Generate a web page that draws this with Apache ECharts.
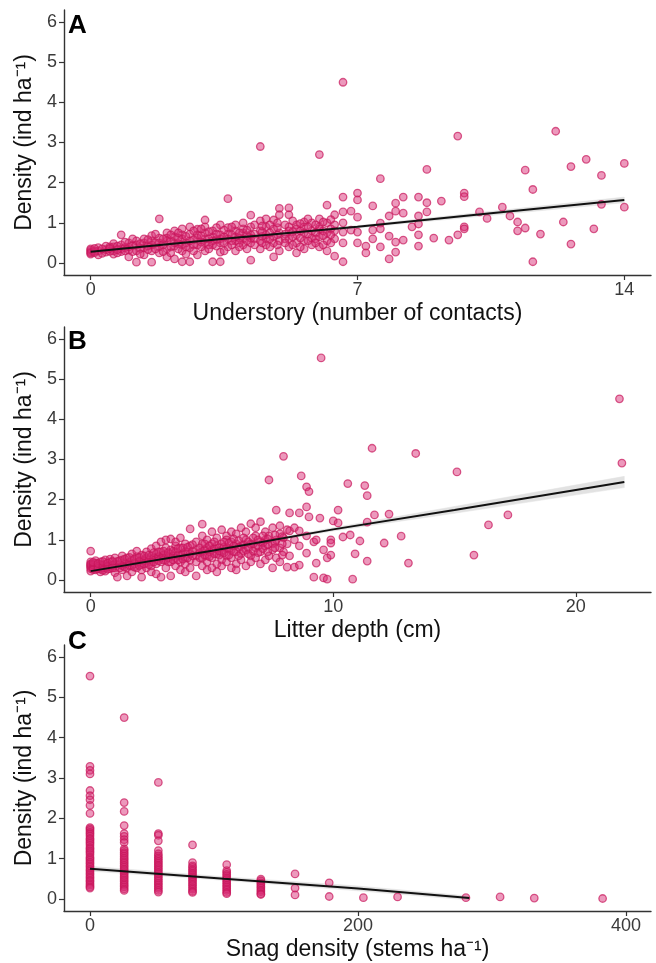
<!DOCTYPE html>
<html><head><meta charset="utf-8">
<script src="https://cdn.jsdelivr.net/npm/echarts@6/dist/echarts.min.js"></script>
<style>html,body{margin:0;padding:0;background:#fff}#c{width:656px;height:963px}</style>
</head><body><div id="c"></div>
<script>
// ---------- Panel A: Understory (number of contacts) ----------
const understoryGroups = [
 [0,[0.22,0.28,0.32,0.35,0.25]],
 [0.2,[0.3,0.2,0.38]],
 [0.4,[0.27,0.33,0.42]],
 [0.6,[0.3,0.4,0.22,0.48]],
 [0.8,[0.7,0.35,0.45,0.28]],
 [1.0,[0.4,0.5,0.32,0.15]],
 [1.2,[0.45,0.02,0.55,0.3]],
 [1.4,[0.38,0.5,0.6,0.2]],
 [1.6,[0.02,0.45,0.55,0.68,0.3]],
 [1.8,[1.1,0.4,0.62,0.5,0.25]],
 [2.0,[0.55,0.75,0.35,0.15,0.62]],
 [2.2,[0.5,0.1,0.65,0.42,0.8]],
 [2.4,[0.85,0.03,0.6,0.45,0.3,0.7]],
 [2.6,[0.03,0.55,0.72,0.38,0.9]],
 [2.8,[0.84,0.62,0.45,0.2,0.7]],
 [3.0,[1.07,0.6,0.5,0.3,0.75,0.9]],
 [3.2,[0.03,0.65,0.8,0.45,0.55]],
 [3.4,[0.95,0.27,0.03,0.7,0.6,0.5]],
 [3.6,[1.6,0.72,0.88,0.4,0.6]],
 [3.8,[0.55,0.8,0.3,0.95,0.65]],
 [4.0,[0.75,0.6,0.85,0.45,1.0]],
 [4.2,[1.19,0.07,0.7,0.5,0.9,0.62]],
 [4.45,[2.9,0.8,0.55,1.05,0.35]],
 [4.6,[1.1,0.7,0.9,0.45,0.6]],
 [4.8,[0.65,0.85,1.07,0.15,0.5]],
 [4.95,[1.36,1.2,0.75,0.55,0.3]],
 [5.2,[1.37,1.2,0.8,0.6,0.4,0.9]],
 [5.4,[0.95,0.7,0.5,0.25,0.85]],
 [5.6,[1.02,0.75,0.55,0.9,0.35]],
 [5.8,[0.8,0.62,1.0,0.45]],
 [6.0,[2.7,0.85,0.65,1.1,0.4,0.9]],
 [6.2,[1.44,0.75,0.55,1.0,0.3]],
 [6.4,[0.17,0.8,0.6,1.2,0.95]],
 [6.62,[4.5,1.64,1.27,1.0,0.77,0.5,0.03]],
 [6.83,[1.29,0.82]],
 [7.0,[1.74,1.57,1.14,0.77,0.5]],
 [7.22,[0.42,0.25]],
 [7.4,[1.42,0.82,0.6]],
 [7.6,[2.1,0.99,0.85,0.4]],
 [7.83,[1.17,0.67,0.1]],
 [8.0,[1.49,1.29,0.52,0.27]],
 [8.2,[1.64,1.24,0.57]],
 [8.43,[0.9]],
 [8.6,[1.64,1.17,0.97,0.7,0.42]],
 [8.82,[2.33,1.5,1.27]],
 [9.0,[0.62]],
 [9.2,[1.54]],
 [9.4,[0.57]],
 [9.63,[3.16,0.7]],
 [9.8,[1.74,1.65,0.9,0.85]],
 [10.2,[1.27]],
 [10.4,[1.11]],
 [10.8,[1.39]],
 [11.0,[1.17]],
 [11.2,[1.02,0.8]],
 [11.4,[2.31,0.87]],
 [11.6,[1.83,0.03]],
 [11.8,[0.72]],
 [12.2,[3.28]],
 [12.4,[1.02]],
 [12.6,[2.4,0.47]],
 [13.0,[2.58]],
 [13.2,[0.85]],
 [13.4,[2.18,1.46]],
 [14.0,[2.48,1.39]]
];
// dense core of panel A (second pass of readings)
const understoryCore = [
 [0.1,[0.3,0.26,0.36]],[0.3,[0.24,0.35]],[0.5,[0.29,0.4,0.36]],[0.7,[0.25,0.42,0.33]],
 [0.9,[0.38,0.52,0.3]],[1.1,[0.28,0.44,0.6]],[1.3,[0.36,0.48,0.22]],[1.5,[0.42,0.58,0.33]],
 [1.7,[0.35,0.5,0.72]],[1.9,[0.45,0.6,0.28]],[2.1,[0.4,0.55,0.7,0.25]],[2.3,[0.48,0.62,0.35,0.75]],
 [2.5,[0.5,0.66,0.4,0.22]],[2.7,[0.58,0.45,0.8,0.3]],[2.9,[0.52,0.68,0.4,0.85]],[3.1,[0.6,0.45,0.78,0.35]],
 [3.3,[0.58,0.72,0.42,0.88]],[3.5,[0.65,0.5,0.82,0.3]],[3.7,[0.7,0.55,0.45,0.9]],[3.9,[0.62,0.75,0.5,0.4]],
 [4.1,[0.68,0.82,0.55,0.35]],[4.3,[0.72,0.6,0.95,0.45]],[4.5,[0.66,0.78,0.5,0.92]],[4.7,[0.75,0.6,0.95,0.4]],
 [4.9,[0.7,0.88,0.45,1.0]],[5.1,[0.72,0.6,0.95,0.5]],[5.3,[0.78,0.65,1.05,0.45]],[5.5,[0.8,0.62,0.98,0.4]],
 [5.7,[0.72,0.9,0.55,1.1]],[5.9,[0.75,0.6,0.95,0.5]],[6.1,[0.8,0.68,1.02,0.45]],[6.3,[0.85,0.7,1.08,0.5]]
];
const understoryFit = [[0,0.28],[3.5,0.6],[7,0.9],[10.5,1.24],[14,1.57]];
const understoryLower = [[0,0.25],[7,0.87],[14,1.5]];
const understoryUpper = [[0,0.31],[7,0.93],[14,1.64]];
const understoryTicks = [0,7,14];

// ---------- Panel B: Litter depth (cm) ----------
const litterGroups = [
 [0,[0.72,0.45,0.38,0.32,0.28,0.22,0.35,0.4]],
 [0.2,[0.3,0.42,0.25,0.36,0.48]],
 [0.4,[0.33,0.27,0.45,0.38,0.2]],
 [0.6,[0.4,0.3,0.5,0.22,0.35]],
 [0.8,[0.28,0.45,0.36,0.52]],
 [1.0,[0.4,0.3,0.55,0.18]],
 [1.1,[0.07,0.46]],
 [1.3,[0.35,0.5,0.25,0.6]],
 [1.5,[0.42,0.1,0.55,0.3]],
 [1.7,[0.5,0.35,0.65,0.2]],
 [1.9,[0.45,0.3,0.58,0.72]],
 [2.1,[0.07,0.5,0.38,0.62,0.25]],
 [2.3,[0.55,0.42,0.7,0.3]],
 [2.5,[0.45,0.6,0.78,0.2,0.35]],
 [2.7,[0.52,0.65,0.4,0.85,0.15]],
 [2.9,[0.07,0.55,0.7,0.45,0.95]],
 [3.1,[0.6,0.5,0.8,0.3,1.0]],
 [3.3,[0.1,0.65,0.45,0.75,1.02]],
 [3.5,[0.55,0.7,0.85,0.35,0.95]],
 [3.7,[0.6,0.45,0.8,0.25,1.05]],
 [3.9,[0.7,0.55,0.9,0.4,0.2]],
 [4.1,[1.27,0.65,0.5,0.85,0.3]],
 [4.35,[0.1,0.75,0.6,0.95,0.45]],
 [4.6,[1.39,0.7,0.55,0.9,0.35,1.1]],
 [4.8,[0.8,0.6,0.45,1.0,0.25]],
 [5.0,[1.2,0.75,0.55,0.9,0.3]],
 [5.2,[0.85,0.65,1.05,0.4,0.2]],
 [5.4,[1.25,0.7,0.9,0.5,0.35]],
 [5.6,[0.8,1.1,0.6,0.45,1.0]],
 [5.8,[1.2,0.75,0.55,0.95,0.3]],
 [6.0,[0.9,0.7,1.15,0.4,0.25]],
 [6.2,[1.3,0.85,0.65,0.5]],
 [6.4,[1.0,0.75,1.2,0.35]],
 [6.6,[1.4,0.9,0.6,0.45]],
 [6.8,[1.1,0.8,0.55,1.3]],
 [7.0,[1.45,0.95,0.7,0.4]],
 [7.2,[1.2,0.85,0.5,1.0]],
 [7.35,[2.49,1.1,0.6]],
 [7.5,[1.3,0.9,0.75,0.3]],
 [7.65,[1.74,1.0,0.55]],
 [7.8,[1.35,0.8,1.15,0.45]],
 [7.95,[3.08,1.05,0.7]],
 [8.1,[0.32,1.25,0.9]],
 [8.2,[1.67,1.22,0.6]],
 [8.4,[0.32,1.0,1.3]],
 [8.6,[1.67,1.22,0.37,0.85]],
 [8.68,[2.59]],
 [8.9,[2.32,1.82,0.67,1.1]],
 [9.0,[2.2,1.57]],
 [9.2,[0.07,0.95]],
 [9.3,[1.0,0.42]],
 [9.45,[1.54]],
 [9.5,[5.53]],
 [9.6,[0.75,0.05]],
 [9.75,[0.55,0.02]],
 [9.9,[1.0,0.62,0.92]],
 [10.0,[1.47]],
 [10.2,[1.74,1.42]],
 [10.4,[1.07]],
 [10.6,[2.4]],
 [10.7,[1.12]],
 [10.8,[0.02]],
 [10.9,[0.65]],
 [11.1,[0.97]],
 [11.3,[2.35]],
 [11.4,[2.1,1.44,0.47]],
 [11.6,[3.28]],
 [11.7,[1.62]],
 [12.1,[0.92]],
 [12.3,[1.64]],
 [12.8,[1.09]],
 [13.1,[0.42]],
 [13.4,[3.15]],
 [15.1,[2.69]],
 [15.8,[0.62]],
 [16.4,[1.37]],
 [17.2,[1.62]],
 [21.8,[4.51]],
 [21.9,[2.91]]
];
// dense core of panel B (second pass of readings)
const litterCore = [
 [0.1,[0.3,0.38,0.26,0.44]],[0.3,[0.34,0.28,0.41]],[0.5,[0.3,0.37,0.46,0.24]],[0.7,[0.33,0.42,0.27]],
 [0.9,[0.36,0.46,0.3]],[1.2,[0.38,0.3,0.48]],[1.4,[0.4,0.32,0.52]],[1.6,[0.44,0.36,0.56]],
 [1.8,[0.4,0.52,0.32]],[2.0,[0.46,0.56,0.36]],[2.2,[0.48,0.6,0.4]],[2.4,[0.5,0.62,0.38]],
 [2.6,[0.55,0.68,0.45]],[2.8,[0.58,0.48,0.7]],[3.0,[0.62,0.5,0.72]],[3.2,[0.55,0.68,0.45]],
 [3.4,[0.6,0.72,0.5]],[3.6,[0.62,0.78,0.5]],[3.8,[0.65,0.52,0.8]],[4.0,[0.7,0.55,0.82]],
 [4.2,[0.72,0.6,0.88]],[4.5,[0.68,0.8,0.55]],[4.7,[0.75,0.62,0.9]],[4.9,[0.7,0.85,0.58]],
 [5.1,[0.78,0.65,0.95]],[5.3,[0.8,0.62,0.72]],[5.5,[0.82,0.68,0.95]],[5.7,[0.78,0.92,0.62]],
 [5.9,[0.85,0.7,1.02]],[6.1,[0.82,0.98,0.6]],[6.3,[0.88,0.72,1.05]],[6.5,[0.8,0.95,0.65]],
 [6.7,[0.9,1.05,0.72]],[6.9,[0.85,1.0,0.68]],[7.1,[0.92,0.78,1.1]],[7.3,[0.88,1.02,0.7]],
 [7.6,[0.95,0.8,1.12]],[7.9,[0.9,1.08,0.62]]
];
const litterFit = [[0,0.22],[5,0.73],[10,1.26],[15,1.74],[22,2.44]];
const litterLower = [[0,0.18],[5,0.7],[10,1.22],[15,1.66],[22,2.3]];
const litterUpper = [[0,0.27],[5,0.76],[10,1.3],[15,1.83],[22,2.58]];
const litterTicks = [0,10,20];

// ---------- Panel C: Snag density (stems ha-1) ----------
const snagX = [0, 25.5, 51, 76.5, 102, 127.5, 153, 178.5, 204, 229.5, 280.5, 306, 331.5, 382.5];
const snagY = [
 [5.53,3.29,3.19,3.1,2.69,2.56,2.46,2.32,2.12,1.77,1.74,1.7,1.65,1.61,1.56,1.5,1.47,1.42,1.38,1.33,1.27,1.24,1.19,1.15,1.1,1.04,1.0,0.96,0.91,0.87,0.82,0.78,0.73,0.69,0.64,0.6,0.55,0.51,0.46,0.43,0.38,0.34,0.3,0.27],
 [4.5,2.39,2.17,1.82,1.62,1.55,1.47,1.4,1.24,1.2,1.15,1.11,1.06,1.01,0.97,0.92,0.88,0.83,0.79,0.74,0.7,0.65,0.61,0.56,0.52,0.47,0.43,0.38,0.34,0.3,0.25,0.21],
 [2.89,1.62,1.58,1.44,1.2,1.12,1.07,1.02,0.98,0.93,0.89,0.84,0.8,0.75,0.71,0.66,0.62,0.57,0.53,0.48,0.44,0.39,0.35,0.3,0.26,0.21,0.17],
 [1.34,0.9,0.82,0.78,0.73,0.69,0.64,0.6,0.55,0.51,0.46,0.42,0.37,0.33,0.28,0.24,0.19,0.16],
 [0.85,0.7,0.66,0.61,0.57,0.52,0.48,0.43,0.39,0.34,0.3,0.25,0.21,0.16,0.13],
 [0.49,0.45,0.4,0.36,0.31,0.27,0.22,0.18,0.13,0.11],
 [0.62,0.27,0.1],
 [0.4,0.06],
 [0.03],
 [0.05],
 [0.03],
 [0.05],
 [0.02],
 [0.01]
];
const snagFit = [[0,0.75],[100,0.5],[200,0.26],[283,0.02]];
const snagLower = [[0,0.69],[100,0.46],[200,0.2],[283,-0.03]];
const snagUpper = [[0,0.81],[100,0.55],[200,0.32],[283,0.07]];
const snagTicks = [0,200,400];

const densityTicks = [0,1,2,3,4,5,6];

// ---------- build ----------
function flatGroups(groups){ const out=[]; groups.forEach(g=>g[1].forEach(y=>out.push([g[0],y]))); return out; }
function flatCols(xs, ys){ const out=[]; xs.forEach((x,i)=>ys[i].forEach(y=>out.push([x,y]))); return out; }

const FONT = '"Liberation Sans", Arial, sans-serif';
const grids = [
 {left:64, top:10, width:587, height:265},
 {left:64, top:327, width:587, height:265},
 {left:64, top:645, width:587, height:266}
];
const axisLine = {show:true, onZero:false, lineStyle:{color:'#333', width:1.4}};
const axisTickBase = {show:true, length:5, lineStyle:{color:'#333', width:1.2}};

function xAx(i, min, max, ticks, name){
 return {gridIndex:i, type:'value', min:min, max:max, axisLine:axisLine,
  axisTick:Object.assign({customValues:ticks}, axisTickBase),
  axisLabel:{customValues:ticks, color:'#3a3a3a', fontSize:18, fontFamily:FONT, margin:6},
  splitLine:{show:false}, name:name, nameLocation:'middle', nameGap:27,
  nameTextStyle:{color:'#111', fontSize:23, fontFamily:FONT}};
}
function yAx(i){
 return {gridIndex:i, type:'value', min:-0.3, max:6.3, axisLine:axisLine,
  axisTick:Object.assign({customValues:densityTicks}, axisTickBase),
  axisLabel:{customValues:densityTicks, color:'#3a3a3a', fontSize:18, fontFamily:FONT, margin:7},
  splitLine:{show:false}, name:'Density (ind ha\u207B\u00B9)', nameLocation:'middle', nameGap:24,
  nameTextStyle:{color:'#111', fontSize:23, fontFamily:FONT}};
}

const pointStyle = {color:'rgba(216,42,116,0.6)', borderColor:'rgba(200,20,90,0.85)', borderWidth:1.3};
function scatter(i, data){ return {type:'scatter', xAxisIndex:i, yAxisIndex:i, data:data, symbol:'circle', symbolSize:7.5, itemStyle:pointStyle, z:2, silent:true}; }
function fit(i, data){ return {type:'line', xAxisIndex:i, yAxisIndex:i, data:data, showSymbol:false, symbol:'none', lineStyle:{color:'#111', width:2}, z:4, silent:true}; }
function band(i, lo, up){
 const segs = lo.slice(0,-1).map((p,k)=>[p[0], p[1], up[k][1], lo[k+1][0], lo[k+1][1], up[k+1][1]]);
 return {type:'custom', xAxisIndex:i, yAxisIndex:i, data:segs, z:1, silent:true,
  encode:{x:[0,3], y:[1,2,4,5]},
  renderItem:function(params, api){
   const a=api.coord([api.value(0),api.value(1)]);
   const b=api.coord([api.value(3),api.value(4)]);
   const c=api.coord([api.value(3),api.value(5)]);
   const d=api.coord([api.value(0),api.value(2)]);
   return {type:'polygon', shape:{points:[a,b,c,d]}, style:{fill:'#e2e2e2', stroke:'#e2e2e2', lineWidth:0.5}};
  }
 };
}

const letterStyle = {fontSize:26, fontWeight:'bold', color:'#000', fontFamily:FONT};
const option = {
 animation:false,
 backgroundColor:'#fff',
 title:[
  {text:'A', left:68, top:13, padding:0, textStyle:letterStyle},
  {text:'B', left:68, top:329, padding:0, textStyle:letterStyle},
  {text:'C', left:68, top:629, padding:0, textStyle:letterStyle}
 ],
 grid:grids,
 xAxis:[
  xAx(0,-0.7,14.7,understoryTicks,'Understory (number of contacts)'),
  xAx(1,-1.1,23.1,litterTicks,'Litter depth (cm)'),
  xAx(2,-19.4,418.6,snagTicks,'Snag density (stems ha\u207B\u00B9)')
 ],
 yAxis:[yAx(0),yAx(1),yAx(2)],
 series:[
  band(0,understoryLower,understoryUpper),
  band(1,litterLower,litterUpper),
  band(2,snagLower,snagUpper),
  scatter(0,flatGroups(understoryGroups).concat(flatGroups(understoryCore))),
  scatter(1,flatGroups(litterGroups).concat(flatGroups(litterCore))),
  scatter(2,flatCols(snagX,snagY)),
  fit(0,understoryFit), fit(1,litterFit), fit(2,snagFit)
 ]
};
const chart = echarts.init(document.getElementById('c'), null, {renderer:'canvas'});
chart.setOption(option);
</script></body></html>
